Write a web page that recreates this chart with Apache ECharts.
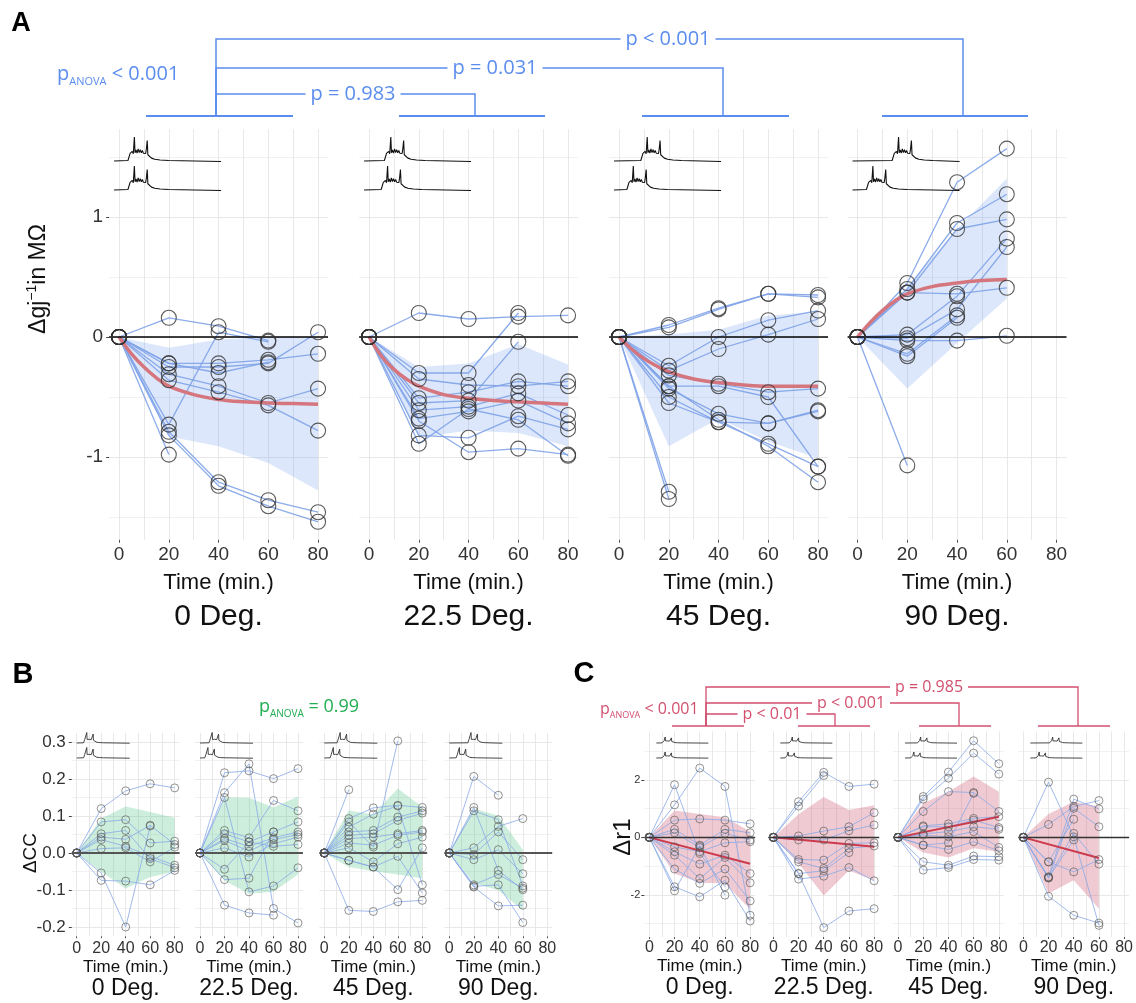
<!DOCTYPE html>
<html><head><meta charset="utf-8">
<script src="https://cdn.jsdelivr.net/npm/echarts@6/dist/echarts.min.js"></script>
<style>html,body{margin:0;padding:0;background:#fff}#c{width:1136px;height:1003px}</style>
</head><body><div id="c"></div>
<script>
// ---------- shared ----------
const times = [0, 20, 40, 60, 80];
const xTickMajor = [0, 20, 40, 60, 80];
const xTickMinor = [0, 10, 20, 30, 40, 50, 60, 70, 80];
const degLabels = ['0 Deg.', '22.5 Deg.', '45 Deg.', '90 Deg.'];

// ---------- Panel A : Δgj^-1 (MΩ) ----------
const gjYMajor = [-1, 0, 1];
const gjYMinor = [-1.5, -0.5, 0.5, 1.5];
const gj_0 = [
  [0, 0.16, 0.09, -0.03], [0, -0.73, 0.04, -0.04], [0, -0.22, -0.22, -0.19, -0.14],
  [0, -0.25, -0.25, -0.22, 0.04], [0, -0.22, -0.30, -0.21], [0, -0.31, -0.41, -0.55, -0.43],
  [0, -0.36, -0.46, -0.57, -0.78], [0, -0.79, -1.21, -1.36, -1.46], [0, -0.82, -1.24, -1.41, -1.54],
  [0, -0.98]
];
const gj_22 = [
  [0, 0.20, 0.15, 0.17, 0.18], [0, -0.30, -0.30, 0.20], [0, -0.35, -0.40, -0.41, -0.37],
  [0, -0.51, -0.46, -0.37, -0.41], [0, -0.55, -0.53, -0.04], [0, -0.61, -0.58, -0.47, -0.65],
  [0, -0.68, -0.62, -0.53, -0.72], [0, -0.70, -0.96, -0.93, -0.98], [0, -0.82, -0.84, -0.66, -0.77],
  [0, -0.89, -0.60, -0.69, -0.99]
];
const gj_45 = [
  [0, 0.10, 0.24, 0.36, 0.35], [0, 0.08, 0.23, 0.36, 0.33], [0, -0.24, 0.00, 0.14, 0.22],
  [0, -0.28, -0.10, 0.02, 0.15], [0, -0.32, -0.39, -0.46, -0.43], [0, -0.41, -0.41, -0.50, -1.08],
  [0, -0.43, -0.64, -0.72, -0.61], [0, -0.50, -0.71, -0.72, -0.62], [0, -0.55, -0.71, -0.89, -1.08],
  [0, -0.41, -0.69, -0.91, -1.21], [0, -1.29], [0, -1.35]
];
const gj_90 = [
  [0, 0.45, 1.29, 1.57], [0, 0.40, 0.95, 1.19], [0, 0.37, 0.90, 0.98], [0, 0.37, 0.36, 0.41],
  [0, 0.02, 0.34, 0.82], [0, -0.01, 0.23, 0.75], [0, -0.14, 0.18], [0, -0.16, 0.16],
  [0, -0.03, -0.03, 0.01], [0, -1.07]
];
const gjBandUp = [[0, -0.09, -0.02, 0.00, 0.00], [0, -0.25, -0.22, -0.06, -0.23], [0, 0.02, 0.06, 0.18, 0.21], [0, 0.42, 0.90, 1.32]];
const gjBandLo = [[0, -0.83, -0.91, -1.05, -1.28], [0, -0.84, -0.78, -0.80, -0.91], [0, -0.91, -0.68, -0.87, -1.01], [0, -0.43, -0.05, 0.32]];
const gjFitT = [0, 5, 10, 15, 20, 30, 40, 50, 60, 70, 80];
const gjFit_0 = [0, -0.14, -0.25, -0.34, -0.41, -0.48, -0.52, -0.54, -0.55, -0.555, -0.56];
const gjFit_22 = [0, -0.16, -0.27, -0.35, -0.41, -0.48, -0.51, -0.53, -0.54, -0.55, -0.56];
const gjFit_45 = [0, -0.10, -0.18, -0.24, -0.29, -0.35, -0.38, -0.40, -0.41, -0.41, -0.41];
const gjFit_90 = [0, 0.12, 0.22, 0.30, 0.36, 0.42, 0.45, 0.47, 0.48];

// ---------- Panel B : ΔCC ----------
const ccYMajor = [-0.2, -0.1, 0, 0.1, 0.2, 0.3];
const ccYMinor = [-0.15, -0.05, 0.05, 0.15, 0.25];
const cc_0 = [
  [0, 0.120, 0.168, 0.187, 0.176], [0, 0.084, 0.090, 0.027, 0.032], [0, 0.052, 0.061, -0.015, -0.040],
  [0, 0.043, 0.037, 0.075, 0.023], [0, 0.036, 0.018, -0.009, -0.033], [0, 0.012, 0.014, -0.024, 0.016],
  [0, -0.054, -0.200, 0.073], [0, -0.074, -0.076, -0.086, -0.047]
];
const cc_22 = [
  [0, 0.217, 0.222, 0.201, 0.228], [0, 0.163, 0.241, -0.150, -0.189], [0, 0.150, -0.105, -0.089, -0.040],
  [0, 0.061, 0.041, 0.142, 0.114], [0, 0.052, 0.030, 0.057, 0.084], [0, 0.039, 0.018, 0.041, 0.057],
  [0, 0.034, 0.005, 0.036, 0.050], [0, 0.014, -0.011, 0.025, 0.043], [0, -0.044, 0.030, 0.018, 0.023],
  [0, -0.072, -0.068, 0.057], [0, -0.141, -0.162, -0.168]
];
const cc_45 = [
  [0, 0.171], [0, 0.093, 0.122, 0.129, 0.123], [0, 0.084, 0.016, 0.303], [0, 0.070, 0.105, 0.127, -0.086],
  [0, 0.057, 0.061, 0.097, 0.114], [0, 0.048, 0.052, 0.088, 0.108], [0, 0.039, 0.043, 0.052, 0.061],
  [0, 0.027, 0.021, 0.048, 0.057], [0, 0.014, -0.024, 0.025, 0.043], [0, -0.020, -0.038, -0.099, 0.014],
  [0, -0.155, -0.158, -0.132, -0.128], [0, -0.020, -0.038, -0.009, -0.108]
];
const cc_90 = [
  [0, 0.207, 0.156], [0, 0.123, -0.047, -0.099], [0, 0.114, 0.090, -0.089], [0, 0.014, 0.072, 0.093],
  [0, -0.004, 0.057, -0.018], [0, -0.018, 0.009, -0.056], [0, -0.086, -0.058, -0.095],
  [0, -0.090, -0.086, -0.188], [0, -0.092, -0.143, -0.141]
];
const ccBandUp = [[0, 0.093, 0.126, 0.111, 0.095], [0, 0.151, 0.149, 0.123, 0.153], [0, 0.115, 0.104, 0.174, 0.124], [0, 0.120, 0.101, 0.009]];
const ccBandLo = [[0, -0.051, -0.096, -0.065, -0.051], [0, -0.074, -0.110, -0.105, -0.058], [0, -0.038, -0.049, -0.058, -0.069], [0, -0.081, -0.101, -0.155]];

// ---------- Panel C : Δr1 ----------
const r1YMajor = [-2, 0, 2];
const r1YMinor = [-3, -1, 1, 3];
const r1_0 = [
  [0, 1.13, 2.41, 1.77, -2.71], [0, 1.83, -0.56, -1.72], [0, 0.60, 0.64, 0.60, 0.47],
  [0, 0.28, -0.27, 0.28, 0.16], [0, 0.16, -0.35, 0.14, -0.09], [0, -0.33, -0.50, -0.19, -0.15],
  [0, -0.50, -0.93, -0.62, -1.26], [0, -0.62, -1.43, -0.70, -1.58], [0, -1.10, -1.60, -1.10, -2.21],
  [0, -1.72, -2.07, -1.49, -2.91], [0, -1.86, -0.30, -2.01]
];
const r1_22 = [
  [0, 1.24, 2.26, 1.77, 1.85], [0, 1.09, 2.15], [0, 0.05, 0.22, 0.37, 0.86], [0, -0.09, -0.09, 0.23, 0.43],
  [0, -0.77, -0.79, -0.21, -0.19], [0, -0.85, -1.08, -0.38, -0.30], [0, -1.26, -3.14, -2.56, -2.48],
  [0, -1.45, -1.35, -1.05, -1.51], [0, -1.26, -1.16, -0.53]
];
const r1_45 = [
  [0, 1.42, 2.27, 3.36, 2.56], [0, 1.33, 2.06, 2.93, 2.20], [0, 0.90, 1.59, 1.56, 0.90],
  [0, 0.40, 0.47, 0.66, 0.72], [0, 0.37, 0.37, 0.60, 0.34], [0, 0.12, 0.20, 0.37, 0.28],
  [0, 0.08, 0.02, 0.20, -0.35], [0, -0.27, -0.19, 1.53], [0, -0.85, -0.97, -0.65, -0.67],
  [0, -1.14, -1.05, -0.77, -0.79], [0, -0.27, -0.42, -0.15, -0.47]
];
const r1_90 = [
  [0, 1.92, 0.02, -3.06], [0, 0.45, 1.07, 1.28], [0, -0.85, -1.20, -0.77], [0, -1.37, 1.33, 0.99],
  [0, -1.41, 1.01, 0.37], [0, -2.05, -2.71, -2.98], [0, -1.39, 0.14, -0.93], [0, -1.41, -0.09], [0, -0.85, 0.63]
];
const r1BandUp = [[0, 0.93, 0.81, 0.70, 0.20], [0, 0.80, 1.40, 0.95, 1.12], [0, 1.19, 1.59, 2.12, 1.59], [0, 0.81, 1.24, 1.07]];
const r1BandLo = [[0, -1.26, -1.58, -1.60, -2.50], [0, -0.90, -2.02, -1.15, -1.50], [0, -0.53, -0.70, -0.38, -0.50], [0, -1.95, -1.49, -2.48]];
const r1FitT = [[0, 80], [0, 80], [0, 80], [0, 60]];
const r1Fit = [[0, -0.92], [0, -0.33], [0, 0.72], [0, -0.72]];

// ---------- inset traces (shape relative to first spike; onsets per panel) ----------
const traceShape = [[-6,0.02],[-5,0.1],[-4,0.32],[-3,0.26],[-2,0.4],[-1,0.3],[0,1.0],[0.6,0.34],[1.5,0.46],[2.5,0.33],[3.5,0.5],[4.5,0.35],[5.5,0.47],[6.5,0.34],[7.5,0.44],[8.5,0.32],[9.5,0.4],[10.5,0.31],[11.2,0.5],[12,0.85],[12.6,0.26],[14,0.2],[16,0.12],[19,0.07],[24,0.04],[32,0.02]];
const traceOnsetTop = { A: [19, 25, 31, 43], B: [19, 23, 30, 41], C: [17, 23, 30, 43] };
const traceOnsetBot = { A: [19, 22, 18, 19], B: [19, 15, 17, 19], C: [17, 15, 17, 17] };

// ---------- layout / style ----------
const FF = 'Liberation Sans, Arial, sans-serif';
const rows = [
  { key: 'A', cells: [gj_0, gj_22, gj_45, gj_90], up: gjBandUp, lo: gjBandLo,
    fitT: [gjFitT, gjFitT, gjFitT, gjFitT.slice(0, 9)], fit: [gjFit_0, gjFit_22, gjFit_45, gjFit_90],
    yMin: -1.69, yMax: 1.73, yMajor: gjYMajor, yMinor: gjYMinor, yFmt: v => String(v),
    lefts: [109.1, 359.1, 609.1, 847.6], ppu: 2.4875, top: 129.4, height: 410.4,
    sym: 15, symB: '#333', symW: 1.1, line: '#7ea2e8', lineW: 1.3, band: 'rgba(110,155,240,0.24)',
    fitC: '#d5767e', fitW: 3.5, smooth: 0.4, zero: '#000', zeroW: 1.5, xFont: 19, yFont: 19, xMargin: 5, yMargin: 6,
    titleFont: 22, degFont: 30, titleY: 583, degY: 617, xTickLen: 3,
    tr: { off: -5, w: 107, base: 190, gap: 29, amp: 24, color: '#111', lw: 1.1 } },
  { key: 'B', cells: [cc_0, cc_22, cc_45, cc_90], up: ccBandUp, lo: ccBandLo, fitT: null, fit: null,
    yMin: -0.225, yMax: 0.325, yMajor: ccYMajor, yMinor: ccYMinor, yFmt: v => v.toFixed(1),
    lefts: [71.8, 195.1, 319.4, 444.4], ppu: 1.225, top: 732.75, height: 203.5,
    sym: 8, symB: '#555', symW: 0.8, line: '#8aaae6', lineW: 0.9, band: 'rgba(60,190,120,0.26)',
    zero: '#555', zeroW: 2, xFont: 16, yFont: 17, xMargin: 4, yMargin: 6,
    titleFont: 17, degFont: 23, titleY: 967, degY: 989, xTickLen: 2,
    tr: { off: 0, w: 53, base: 758, gap: 15, amp: 10.5, color: '#333', lw: 0.9 } },
  { key: 'C', cells: [r1_0, r1_22, r1_45, r1_90], up: r1BandUp, lo: r1BandLo, fitT: r1FitT, fit: r1Fit,
    yMin: -3.465, yMax: 3.685, yMajor: r1YMajor, yMinor: r1YMinor, yFmt: v => String(v),
    lefts: [644.3, 768.3, 893.0, 1018.3], ppu: 1.26, top: 731.4, height: 205.6,
    sym: 8, symB: '#555', symW: 0.8, line: '#8aaae6', lineW: 0.9, band: 'rgba(205,90,115,0.32)',
    fitC: '#cc3a4c', fitW: 2, smooth: false, zero: '#333', zeroW: 1.3, xFont: 16, yFont: 11, xMargin: 3, yMargin: 4,
    titleFont: 17, degFont: 23, titleY: 966, degY: 988, xTickLen: 2,
    tr: { off: 7, w: 52, base: 758, gap: 15, amp: 6, color: '#333', lw: 0.9 } }
];

const grid = [], xAxis = [], yAxis = [], series = [], graphic = [];
const dataXAxis = [];

rows.forEach((R, r) => {
  for (let p = 0; p < 4; p++) {
    const g = r * 4 + p;
    const left = R.lefts[p], width = 88 * R.ppu;
    grid.push({ left, top: R.top, width, height: R.height });
    xAxis.push({ type: 'value', gridIndex: g, min: -4, max: 84,
      axisLine: { show: false, onZero: false }, axisTick: { show: false, customValues: xTickMinor },
      axisLabel: { customValues: xTickMajor, fontSize: R.xFont, color: '#333', margin: R.xMargin, fontFamily: FF },
      splitLine: { show: true, lineStyle: { color: '#e8e8e8', width: 1 } } });
    yAxis.push({ type: 'value', gridIndex: g, min: R.yMin, max: R.yMax, position: 'left',
      axisLine: { show: false, onZero: false },
      axisTick: { show: p === 0, length: 3, customValues: R.yMajor, lineStyle: { color: '#444', width: 1 } },
      axisLabel: { show: p === 0, customValues: R.yMajor, formatter: R.yFmt, fontSize: R.yFont, color: '#333', margin: R.yMargin, fontFamily: FF },
      splitLine: { show: true, lineStyle: { color: '#e8e8e8', width: 1 } } });
    yAxis.push({ type: 'value', gridIndex: g, min: R.yMin, max: R.yMax, position: 'left',
      axisLine: { show: false, onZero: false }, axisTick: { show: false, customValues: R.yMinor },
      axisLabel: { show: false }, splitLine: { show: true, lineStyle: { color: '#f1f1f1', width: 1 } } });

    const xi = g, yi = 2 * g;
    const up = R.up[p], lo = R.lo[p];
    const bt = times.slice(0, up.length);
    const bandColor = R.band;
    series.push({ type: 'custom', xAxisIndex: xi, yAxisIndex: yi, silent: true, z: 1, animation: false,
      data: bt.map((t, i) => [t, lo[i], up[i]]),
      encode: { x: 0, y: [1, 2] },
      renderItem: (params, api) => {
        if (params.dataIndex !== 0) return null;
        const pts = [];
        for (let i = 0; i < bt.length; i++) pts.push(api.coord([bt[i], up[i]]));
        for (let i = bt.length - 1; i >= 0; i--) pts.push(api.coord([bt[i], lo[i]]));
        return { type: 'polygon', shape: { points: pts }, style: { fill: bandColor } };
      } });

    const pts = [];
    R.cells[p].forEach(cell => {
      const d = [];
      cell.forEach((v, i) => { if (v !== null) { d.push([times[i], v]); pts.push([times[i], v]); } });
      series.push({ type: 'line', xAxisIndex: xi, yAxisIndex: yi, data: d, symbol: 'none', silent: true, z: 2,
        animation: false, lineStyle: { color: R.line, width: R.lineW, opacity: 0.9 } });
    });

    if (R.fit) {
      const ft = R.fitT[p], fv = R.fit[p];
      series.push({ type: 'line', xAxisIndex: xi, yAxisIndex: yi, data: ft.map((t, i) => [t, fv[i]]),
        symbol: 'none', smooth: R.smooth, silent: true, z: 3, animation: false,
        lineStyle: { color: R.fitC, width: R.fitW } });
    }

    series.push({ type: 'scatter', xAxisIndex: xi, yAxisIndex: yi, data: pts, symbol: 'circle', symbolSize: R.sym,
      silent: true, z: 6, animation: false,
      itemStyle: { color: 'rgba(255,255,255,0)', borderColor: R.symB, borderWidth: R.symW },
      markLine: { silent: true, symbol: 'none', animation: false, label: { show: false },
        lineStyle: { color: R.zero, width: R.zeroW, type: 'solid' }, data: [{ yAxis: 0 }] } });

    const cx = left + 44 * R.ppu;
    graphic.push({ type: 'text', x: cx, y: R.titleY, silent: true,
      style: { text: 'Time (min.)', font: `${R.titleFont}px ${FF}`, fill: '#111', align: 'center', verticalAlign: 'middle' } });
    graphic.push({ type: 'text', x: cx, y: R.degY, silent: true,
      style: { text: degLabels[p], font: `${R.degFont}px ${FF}`, fill: '#111', align: 'center', verticalAlign: 'middle' } });
  }
});

// x-axis tick marks (major only) on an extra axis per data grid
rows.forEach((R, r) => {
  for (let p = 0; p < 4; p++) {
    const g = r * 4 + p;
    xAxis.push({ type: 'value', gridIndex: g, min: -4, max: 84, position: 'bottom',
      axisLine: { show: false, onZero: false },
      axisTick: { show: true, length: R.xTickLen, customValues: xTickMajor, lineStyle: { color: '#555', width: 1 } },
      axisLabel: { show: false }, splitLine: { show: false } });
  }
});

// inset trace grids
function traceData(onset, yOff) {
  const d = [[0, yOff]];
  traceShape.forEach(([dt, v]) => d.push([onset + dt, yOff + v]));
  d.push([100, yOff - 0.02]);
  return d;
}
rows.forEach((R, r) => {
  for (let p = 0; p < 4; p++) {
    const T = R.tr;
    const x0 = R.lefts[p] + 4 * R.ppu;
    const G = T.gap / T.amp;
    const gi = grid.length;
    grid.push({ left: x0 + T.off, width: T.w, top: T.base - (G + 1.1) * T.amp, height: (G + 1.2) * T.amp });
    const xi = xAxis.length, yi = yAxis.length;
    xAxis.push({ type: 'value', gridIndex: gi, min: 0, max: 100, show: false });
    yAxis.push({ type: 'value', gridIndex: gi, min: -0.1, max: G + 1.1, show: false });
    [traceData(traceOnsetTop[R.key][p], G), traceData(traceOnsetBot[R.key][p], 0)].forEach(d => {
      series.push({ type: 'line', xAxisIndex: xi, yAxisIndex: yi, data: d, symbol: 'none', silent: true, z: 7,
        animation: false, lineStyle: { color: T.color, width: T.lw } });
    });
  }
});

// ---------- annotations ----------
const OS = 'Open Sans, Lato, sans-serif';
const blue = '#5b8def', pink = '#d24f6e', green = '#22ad52';
function bracket(pts, color, w) {
  graphic.push({ type: 'polyline', silent: true, shape: { points: pts }, style: { stroke: color, lineWidth: w, fill: null } });
}
function ptext(x, y, text, color, size) {
  graphic.push({ type: 'text', x, y, silent: true, z: 10,
    style: { text, font: `${size}px ${OS}`, fill: color, align: 'center', verticalAlign: 'middle', backgroundColor: '#fff', padding: [0, 5] } });
}
// A
[[146, 293], [399, 545], [642, 789], [882, 1028]].forEach(([a, b]) => bracket([[a, 116], [b, 116]], blue, 2));
bracket([[216, 116], [216, 94], [475, 94], [475, 116]], blue, 1.5);
bracket([[216, 116], [216, 68], [723, 68], [723, 116]], blue, 1.5);
bracket([[216, 116], [216, 39], [963, 39], [963, 116]], blue, 1.5);
ptext(353, 94, 'p = 0.983', blue, 20);
ptext(495, 68, 'p = 0.031', blue, 20);
ptext(668, 39, 'p < 0.001', blue, 20);
graphic.push({ type: 'text', x: 57, y: 74, silent: true,
  style: { text: '{p|p}{s|ANOVA}{p| < 0.001}', fill: blue, align: 'left', verticalAlign: 'middle',
    rich: { p: { fontFamily: OS, fontSize: 20, lineHeight: 26, fill: blue, verticalAlign: 'middle' },
            s: { fontFamily: OS, fontSize: 11, lineHeight: 11, fill: blue, verticalAlign: 'bottom' } } } });
// C
[[672, 744], [798, 870], [919, 991], [1038, 1110]].forEach(([a, b]) => bracket([[a, 726], [b, 726]], pink, 1.5));
bracket([[706, 726], [706, 714], [835, 714], [835, 726]], pink, 1.3);
bracket([[706, 726], [706, 703], [959, 703], [959, 726]], pink, 1.3);
bracket([[706, 726], [706, 687], [1078, 687], [1078, 726]], pink, 1.3);
ptext(772, 714, 'p < 0.01', pink, 16);
ptext(851, 703, 'p < 0.001', pink, 16);
ptext(929, 687, 'p = 0.985', pink, 16);
graphic.push({ type: 'text', x: 600, y: 709, silent: true,
  style: { text: '{p|p}{s|ANOVA}{p| < 0.001}', fill: pink, align: 'left', verticalAlign: 'middle',
    rich: { p: { fontFamily: OS, fontSize: 16, lineHeight: 21, fill: pink, verticalAlign: 'middle' },
            s: { fontFamily: OS, fontSize: 9, lineHeight: 9, fill: pink, verticalAlign: 'bottom' } } } });
// B
graphic.push({ type: 'text', x: 309, y: 707, silent: true,
  style: { text: '{p|p}{s|ANOVA}{p| = 0.99}', fill: green, align: 'center', verticalAlign: 'middle',
    rich: { p: { fontFamily: OS, fontSize: 18, lineHeight: 24, fill: green, verticalAlign: 'middle' },
            s: { fontFamily: OS, fontSize: 10, lineHeight: 10, fill: green, verticalAlign: 'bottom' } } } });

// panel letters
[['A', 21, 24, 27], ['B', 23, 675, 29], ['C', 584, 674, 29]].forEach(([t, x, y, s]) =>
  graphic.push({ type: 'text', x, y, silent: true, style: { text: t, font: `bold ${s}px ${FF}`, fill: '#000', align: 'center', verticalAlign: 'middle' } }));

// y-axis titles
graphic.push({ type: 'text', x: 39, y: 279, rotation: Math.PI / 2, silent: true,
  style: { text: '{a|Δgj}{s|−1}{a|in MΩ}', align: 'center', verticalAlign: 'middle',
    rich: { a: { fontFamily: FF, fontSize: 23, lineHeight: 28, fill: '#111', verticalAlign: 'middle' },
            s: { fontFamily: FF, fontSize: 14, lineHeight: 14, fill: '#111', verticalAlign: 'top' } } } });
graphic.push({ type: 'text', x: 31, y: 853, rotation: Math.PI / 2, silent: true,
  style: { text: 'ΔCC', font: `19px ${FF}`, fill: '#111', align: 'center', verticalAlign: 'middle' } });
graphic.push({ type: 'text', x: 623, y: 837, rotation: Math.PI / 2, silent: true,
  style: { text: 'Δr1', font: `24px ${FF}`, fill: '#111', align: 'center', verticalAlign: 'middle' } });

const chart = echarts.init(document.getElementById('c'));
chart.setOption({ backgroundColor: '#fff', animation: false, grid, xAxis, yAxis, series, graphic });
</script>
</body></html>
